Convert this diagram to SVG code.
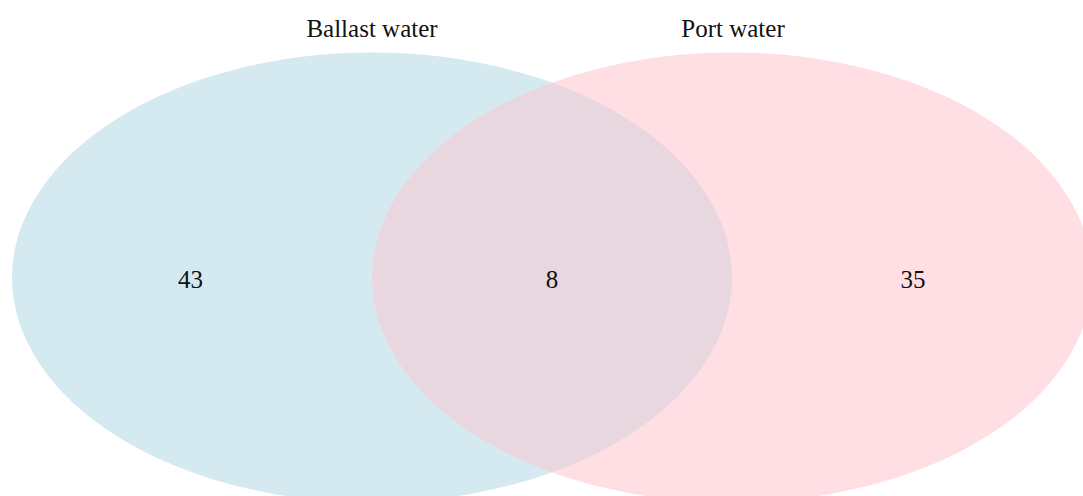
<svg xmlns="http://www.w3.org/2000/svg" width="1083" height="496" viewBox="0 0 1083 496">
  <style>
    .lbl { font-family: "Liberation Serif", "Times New Roman", serif; font-size: 25px; fill: #111; text-anchor: middle; }
  </style>
  <defs>
    <clipPath id="clipLeft">
      <ellipse cx="372" cy="277.5" rx="360" ry="225"/>
    </clipPath>
  </defs>
  <rect width="1083" height="496" fill="#ffffff"/>
  <g id="set-ballast">
    <ellipse cx="372" cy="277.5" rx="360" ry="225" fill="#d5eaf0"/>
    <text class="lbl" x="372" y="37">Ballast water</text>
    <text class="lbl" x="190.5" y="288">43</text>
  </g>
  <g id="set-port">
    <ellipse cx="732" cy="277.5" rx="360" ry="225" fill="#ffdfe4"/>
    <text class="lbl" x="733" y="37">Port water</text>
    <text class="lbl" x="913" y="288">35</text>
  </g>
  <g id="overlap">
    <ellipse cx="732" cy="277.5" rx="360" ry="225" fill="#e9d7df" clip-path="url(#clipLeft)"/>
    <text class="lbl" x="552" y="288">8</text>
  </g>
  <g id="connectors"/>
</svg>
